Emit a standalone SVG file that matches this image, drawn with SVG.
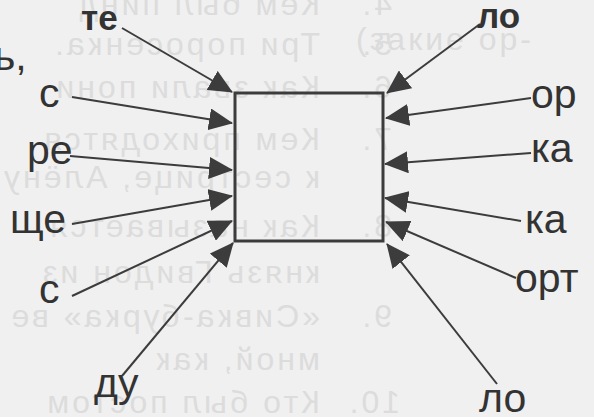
<svg xmlns="http://www.w3.org/2000/svg" width="594" height="417" viewBox="0 0 594 417">
  <style>
    .bg { font-family: "Liberation Sans", Arial, sans-serif; font-size: 32px; fill: #dcdcdc; letter-spacing: 3px; }
    .lbl { font-family: "Liberation Sans", Arial, sans-serif; font-size: 41px; fill: #333333; }
    .bold { font-weight: bold; font-size: 35px; }
    .conn { stroke: #3c3c3c; stroke-width: 2; fill: none; marker-end: url(#ah); }
  </style>
  <defs>
    <marker id="ah" viewBox="0 0 24 22" refX="23" refY="11" markerWidth="24" markerHeight="22" markerUnits="userSpaceOnUse" orient="auto">
      <path d="M0,0 L24,11 L0,22 z" fill="#3c3c3c"/>
    </marker>
  </defs>
  <rect x="0" y="0" width="594" height="417" fill="#f0f0f0"/>

  <g id="background-text">
    <g transform="matrix(-1 0 0 1 400 0)">
      <text class="bg" x="8" y="15">4.</text>
      <text class="bg" x="80" y="15">Кем был пинд</text>
      <text class="bg" x="8" y="55">5.</text>
      <text class="bg" x="80" y="55">Три поросенка.</text>
      <text class="bg" x="8" y="98">6.</text>
      <text class="bg" x="80" y="98">Как звали пони</text>
      <text class="bg" x="8" y="150">7.</text>
      <text class="bg" x="80" y="150">Кем приходятся</text>
      <text class="bg" x="80" y="188">к сестрице, Алёнушке</text>
      <text class="bg" x="8" y="237">8.</text>
      <text class="bg" x="80" y="237">Как называется</text>
      <text class="bg" x="80" y="283">князь Гвидон из</text>
      <text class="bg" x="8" y="327">9.</text>
      <text class="bg" x="80" y="327">«Сивка-бурка» ве</text>
      <text class="bg" x="80" y="370">мной, как</text>
      <text class="bg" x="0" y="413">10.</text>
      <text class="bg" x="80" y="413">Кто был постом</text>
    </g>
    <text class="bg" x="356" y="50">(закие ор-</text>
  </g>

  <g id="box">
    <rect x="235" y="93" width="148" height="148" fill="none" stroke="#3c3c3c" stroke-width="3"/>
  </g>

  <g id="connectors">
    <path class="conn" d="M122,28 L232,92"/>
    <path class="conn" d="M72,97 L232,123"/>
    <path class="conn" d="M70,156 L232,170"/>
    <path class="conn" d="M72,224 L232,196"/>
    <path class="conn" d="M72,296 L232,221"/>
    <path class="conn" d="M122,376 L233,243"/>
    <path class="conn" d="M480,24 L387,93"/>
    <path class="conn" d="M531,98 L386,118"/>
    <path class="conn" d="M531,153 L385,164"/>
    <path class="conn" d="M521,221 L385,198"/>
    <path class="conn" d="M516,278 L386,222"/>
    <path class="conn" d="M497,384 L387,244"/>
  </g>

  <g id="label-te"><text class="lbl bold" x="81" y="30">те</text></g>
  <g id="label-soft"><text class="lbl" x="-6" y="70">ь,</text></g>
  <g id="label-s1"><text class="lbl" x="39" y="107">с</text></g>
  <g id="label-re"><text class="lbl" x="27" y="164">ре</text></g>
  <g id="label-shche"><text class="lbl" x="10" y="233">ще</text></g>
  <g id="label-s2"><text class="lbl" x="39" y="303">с</text></g>
  <g id="label-du"><text class="lbl" x="94" y="397">ду</text></g>
  <g id="label-lo1"><text class="lbl bold" x="477" y="28">ло</text></g>
  <g id="label-or"><text class="lbl" x="531" y="108">ор</text></g>
  <g id="label-ka1"><text class="lbl" x="531" y="162">ка</text></g>
  <g id="label-ka2"><text class="lbl" x="525" y="233">ка</text></g>
  <g id="label-ort"><text class="lbl" x="515" y="292">орт</text></g>
  <g id="label-lo2"><text class="lbl" x="479" y="412">ло</text></g>
</svg>
